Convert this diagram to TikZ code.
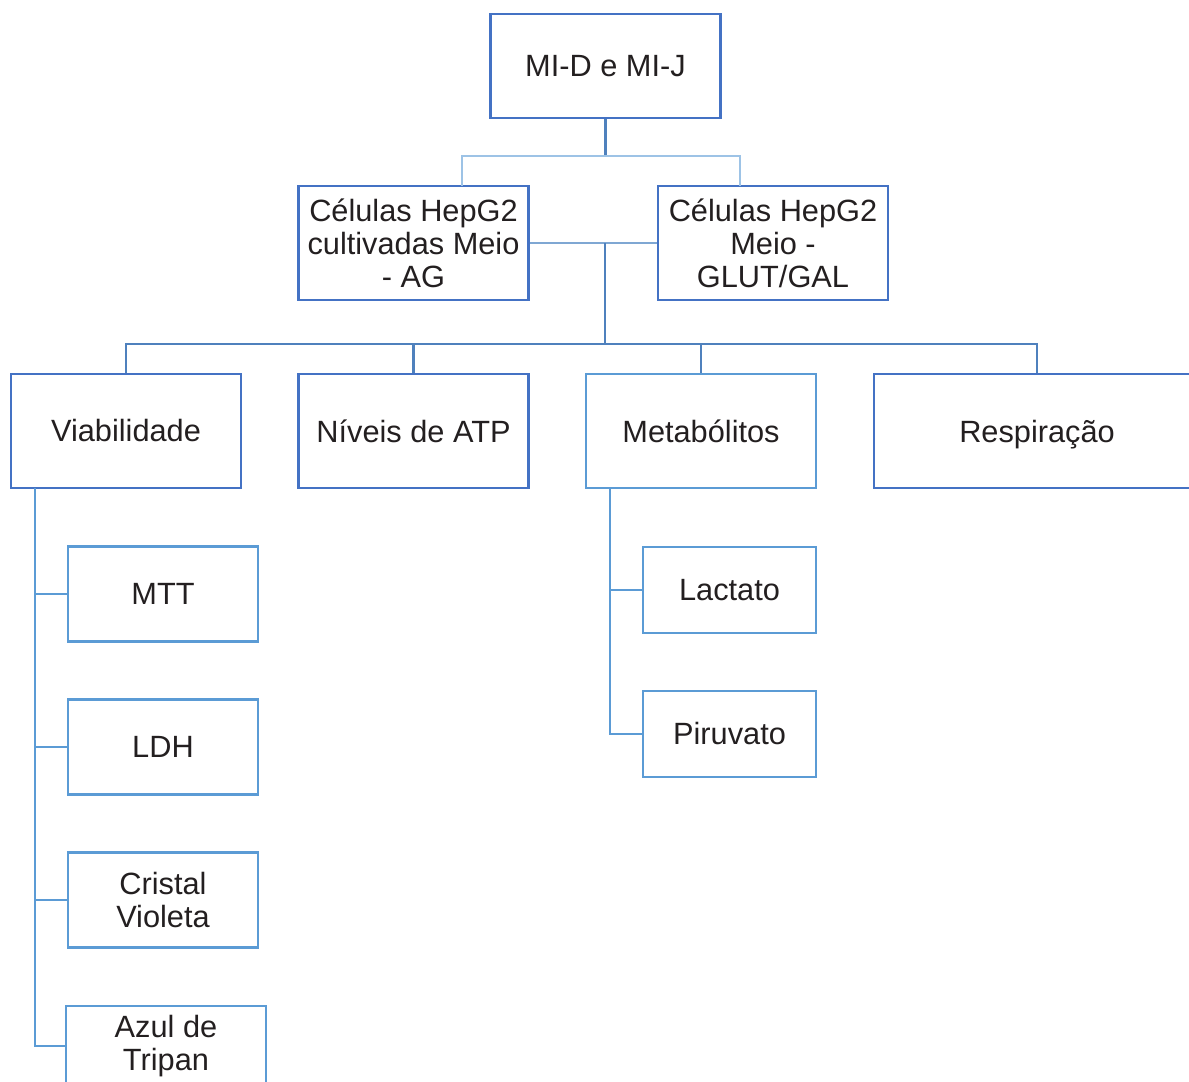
\documentclass[tikz,border=0pt]{standalone}
\usepackage{fontspec}
\setmainfont{Liberation Sans}
\definecolor{boxdark}{HTML}{4472C4}
\definecolor{boxlight}{HTML}{5B9BD5}
\definecolor{linedark}{HTML}{4F81BD}
\definecolor{linelight}{HTML}{9DC3E6}
\definecolor{linemid}{HTML}{7FA7D3}
\definecolor{txt}{HTML}{231F20}
\tikzset{
  box/.style={draw=boxdark, line width=1.6pt, align=center, inner sep=0pt,
    minimum width=4.6cm, font=\fontsize{17.5}{18.7}\selectfont, text=txt},
  lbox/.style={box, draw=boxlight},
  conn/.style={line width=1.6pt, draw=linedark},
  lconn/.style={line width=1.6pt, draw=boxlight}
}
\begin{document}
\begin{tikzpicture}[x=0.02cm,y=-0.02cm]
\clip (0,0) rectangle (1189,1081);

% top
\node[box, minimum height=2.08cm] (mi) at (605.5,66) {MI-D e MI-J};

\node[box, minimum height=2.28cm] (celAG) at (413.5,243) {Células HepG2\\cultivadas Meio\\- AG};
\node[box, minimum height=2.28cm] (celGAL) at (773,243) {Células HepG2\\Meio -\\GLUT/GAL};

% second row
\node[box, minimum height=2.28cm] (viab) at (126,431) {Viabilidade};
\node[box, minimum height=2.28cm] (atp) at (413.5,431) {Níveis de ATP};
\node[lbox, minimum height=2.28cm] (metab) at (701,431) {Metabólitos};
\node[box, minimum height=2.28cm, minimum width=6.52cm, text depth=0pt] (resp) at (1037,431) {Respiração};

% viabilidade
\node[lbox, minimum width=3.8cm, minimum height=1.9cm] (mtt) at (163,594) {MTT};
\node[lbox, minimum width=3.8cm, minimum height=1.9cm] (ldh) at (163,747) {LDH};
\node[lbox, minimum width=3.8cm, minimum height=1.9cm] (cristal) at (163,900) {Cristal\\Violeta};
\node[lbox, minimum width=4cm, minimum height=1.6cm] (azul) at (166,1046) {Azul de\\Tripan};

% metabolitos
\node[lbox, minimum width=3.46cm, minimum height=1.72cm] (lact) at (729.5,590) {Lactato};
\node[lbox, minimum width=3.46cm, minimum height=1.72cm] (piruv) at (729.5,734) {Piruvato};

% connectors
\coordinate (j1) at (605.5,156);
\coordinate (t1) at (462,186);
\coordinate (t2) at (740,186);
\draw[conn] (mi.south) -- (j1);
\draw[line width=1.6pt, draw=linelight] (t1) |- (j1) -| (t2);

\coordinate (j2) at (605,243);
\coordinate (j3) at (605,344);
\draw[line width=1.6pt, draw=linemid] (celAG.east) -- (celGAL.west);
\draw[conn] (j2) -- (j3);
\draw[conn] (viab.north) |- (j3) -| (resp.north);
\draw[conn] (atp.north) -- (atp.north |- j3);
\draw[conn] (metab.north) -- (metab.north |- j3);

\coordinate (vb) at (35,488);
\draw[lconn] (vb) |- (azul.west);
\draw[lconn] (mtt.west) -- (mtt.west -| vb);
\draw[lconn] (ldh.west) -- (ldh.west -| vb);
\draw[lconn] (cristal.west) -- (cristal.west -| vb);

\coordinate (mb) at (610,488);
\draw[lconn] (mb) |- (piruv.west);
\draw[lconn] (lact.west) -- (lact.west -| mb);
\end{tikzpicture}
\end{document}
